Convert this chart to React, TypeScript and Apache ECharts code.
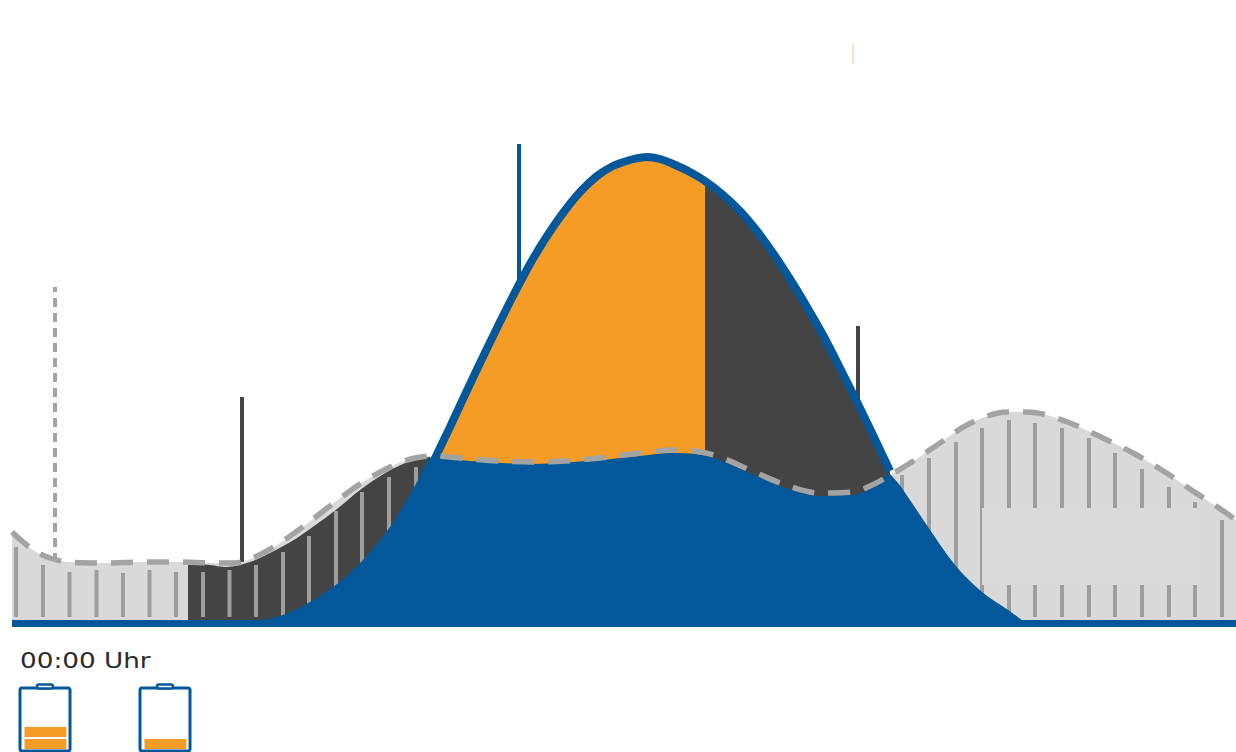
import React, { useEffect, useRef } from "react";
import * as echarts from "echarts";

// Power curves over the day: [time position, power]
const load: number[][] = [
  [12, 95], [33, 77], [50, 69], [68, 65], [105, 64], [142, 65], [178, 65], [213, 64], [235, 64], [253, 69],
  [280, 84], [308, 104], [335, 125], [363, 145], [394, 162], [415, 169], [433, 171], [470, 168], [500, 166],
  [533, 165], [565, 166], [600, 169], [640, 174], [673, 177], [695, 176], [717, 171], [750, 157], [783, 143],
  [820, 134], [853, 135], [870, 141], [887, 150], [915, 167], [940, 184], [967, 202], [998, 214], [1013, 215],
  [1037, 214], [1070, 204], [1103, 189], [1135, 173], [1165, 155], [1193, 136], [1222, 117], [1236, 107],
];
const nightDraw: number[][] = [
  [188, 64], [210, 62], [226, 60], [250, 65], [270, 74], [297, 89], [337, 118], [360, 137], [387, 155], [413, 167], [430, 170],
];
const solarArc: number[][] = [
  [433, 164], [438, 175], [450, 200], [463, 228], [480, 264], [497, 299], [513, 331], [530, 363], [547, 391],
  [563, 414], [580, 435], [597, 451], [613, 461], [630, 467], [647, 470], [660, 468], [673, 463], [690, 455],
  [705, 446], [722, 433], [740, 416], [757, 396], [773, 374], [790, 348], [807, 320], [823, 292], [840, 259],
  [858, 223], [873, 192], [890, 156],
];
const directUseRise: number[][] = [
  [265, 7], [283, 12], [310, 25], [337, 43], [363, 67], [390, 100], [403, 121], [417, 145], [424, 160], [430, 169], [434, 170],
];
const directUseTop: number[][] = [
  [434, 170], [470, 166], [533, 163], [600, 167], [640, 171], [673, 174], [695, 173], [717, 168], [750, 154],
  [783, 140], [820, 131], [853, 132], [870, 138], [888, 153],
];
const directUseFall: number[][] = [
  [888, 155], [898, 144], [912, 124], [928, 100], [955, 62], [982, 35], [1008, 17], [1022, 7],
];
const tickXs = [16, 43, 69.5, 96.5, 123, 149.5, 176, 203, 229.5, 256, 283, 309, 336, 362, 389, 416,
  902, 929, 956, 982, 1009, 1035, 1062, 1089, 1115, 1142, 1169, 1195, 1222];
const tickTops = [80, 62, 55, 57, 54, 57, 55, 55, 57, 62, 75, 91, 116, 135, 150, 160,
  152, 169, 185, 199, 207, 204, 199, 189, 174, 158, 140, 125, 107];
const tickFloor = 10;
const gridBand: number[][] = [[12, 7], [1236, 7]];
const clearedPatch = [982, 42, 1198, 119];
const dashedMarker: number[][] = [[55, 65], [55, 340]];
const morningMarker: number[][] = [[242, 62], [242, 230]];
const solarMarker: number[][] = [[519, 342], [519, 483]];
const eveningMarker: number[][] = [[858, 217], [858, 301]];
const clockLabel = "00:00 Uhr";
const batteryCells = [2, 1];

const BLUE = "#02589a";
const ORANGE = "#f59c27";
const DARK = "#444444";
const LIGHT = "#d9d9d9";
const TICK = "#9e9e9e";
const DASH = "#a3a3a3";
const CURVE = 0.33;

const between = (rows: number[][], a: number, b: number) => rows.filter(([x]) => x >= a && x <= b);

const areaSeries = (data: number[][], color: string, z: number) => ({
  type: "line", data, z, smooth: CURVE, showSymbol: false, symbol: "none", silent: true,
  lineStyle: { width: 0, color }, areaStyle: { color, opacity: 1, origin: 0 },
});

const markerSeries = (data: number[][], color: string, width: number, z: number, dashed = false) => ({
  type: "line", data, z, showSymbol: false, symbol: "none", silent: true,
  lineStyle: { color, width, type: dashed ? [9, 6] : "solid", cap: "butt" },
});

const batteryGraphic = (left: number, cells: number) => {
  const children: any[] = [
    { type: "rect", shape: { x: left, y: 688, width: 50, height: 63, r: 2 }, style: { fill: "#fff", stroke: BLUE, lineWidth: 3 } },
    { type: "rect", shape: { x: left + 17, y: 684.5, width: 16, height: 4, r: 2 }, style: { fill: "#fff", stroke: BLUE, lineWidth: 2.5 } },
  ];
  for (let i = 0; i < cells; i++) {
    children.push({
      type: "rect",
      shape: { x: left + 4.5, y: 739 - i * 12, width: 42, height: 10 },
      style: { fill: ORANGE },
    });
  }
  return { type: "group", children };
};

export default function App() {
  const ref = useRef<HTMLDivElement>(null);
  useEffect(() => {
    const chart = echarts.init(ref.current!, null, { renderer: "svg" });
    chart.setOption({
      animation: false,
      backgroundColor: "#ffffff",
      grid: { left: 0, right: 0, top: 0, bottom: 0 },
      xAxis: { type: "value", min: 0, max: 1236, show: false },
      yAxis: { type: "value", min: -125, max: 627, show: false },
      series: [
        markerSeries(dashedMarker, DASH, 4, 1, true),
        markerSeries(morningMarker, DARK, 4, 1),
        markerSeries(solarMarker, BLUE, 4, 1),
        markerSeries(eveningMarker, DARK, 4, 1),
        areaSeries(load, LIGHT, 2),
        areaSeries(nightDraw, DARK, 3),
        {
          type: "custom", z: 4, silent: true, clip: false,
          data: tickXs.map((x, i) => [x, tickTops[i]]),
          encode: { x: 0, y: 1 },
          renderItem: (_: any, api: any) => {
            const top = api.coord([api.value(0), api.value(1)]);
            const foot = api.coord([api.value(0), tickFloor]);
            return { type: "rect", shape: { x: top[0] - 2, y: top[1], width: 4, height: foot[1] - top[1] }, style: { fill: TICK } };
          },
        },
        {
          type: "custom", z: 5, silent: true, clip: false,
          data: [clearedPatch],
          encode: { x: [0, 2], y: [1, 3] },
          renderItem: (_: any, api: any) => {
            const a = api.coord([api.value(0), api.value(3)]);
            const b = api.coord([api.value(2), api.value(1)]);
            return { type: "rect", shape: { x: a[0], y: a[1], width: b[0] - a[0], height: b[1] - a[1] }, style: { fill: "#dadada" } };
          },
        },
        areaSeries(between(solarArc, 433, 705), ORANGE, 6),
        areaSeries(between(solarArc, 705, 890), DARK, 6),
        areaSeries(directUseRise, BLUE, 7),
        areaSeries(directUseTop, BLUE, 7),
        areaSeries(directUseFall, BLUE, 7),
        {
          type: "line", data: solarArc, z: 8, smooth: CURVE, showSymbol: false, symbol: "none", silent: true,
          lineStyle: { color: BLUE, width: 8 },
        },
        areaSeries(gridBand, BLUE, 9),
        {
          type: "line", data: load, z: 10, smooth: CURVE, showSymbol: false, symbol: "none", silent: true,
          lineStyle: { color: DASH, width: 5.5, type: [22, 14], cap: "butt" },
        },
      ],
      graphic: [
        {
          type: "text", x: 20, y: 650, scaleX: 1.25,
          style: { text: clockLabel, fontFamily: "DejaVu Sans", fontSize: 21, fill: "#2b2b2b" },
        },
        { type: "rect", shape: { x: 852, y: 44, width: 2, height: 20 }, style: { fill: "#fde3bf" } },
        batteryGraphic(20, batteryCells[0]),
        batteryGraphic(140, batteryCells[1]),
      ],
    });
    return () => chart.dispose();
  }, []);
  return <div ref={ref} style={{ position: "absolute", left: 0, top: 0, width: 1236, height: 752 }} />;
}
